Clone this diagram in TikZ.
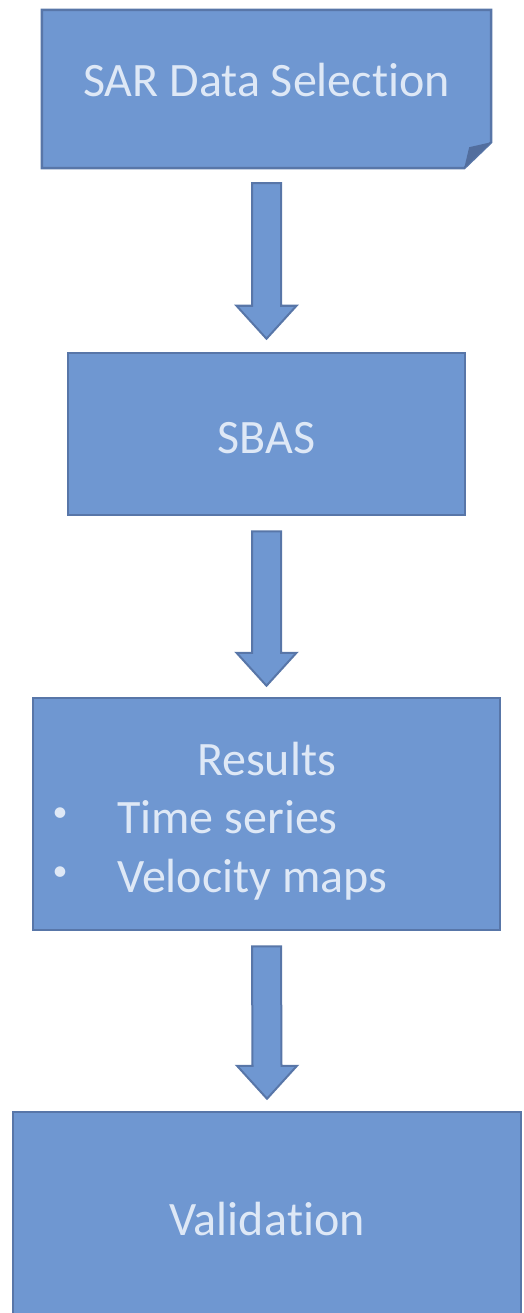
\documentclass[tikz,border=0pt]{standalone}
\usepackage{fontspec}
\setmainfont{Carlito}[Ligatures={NoCommon}]
\usetikzlibrary{calc}
\definecolor{boxfill}{RGB}{111,151,209}
\definecolor{boxline}{RGB}{88,118,168}
\definecolor{foldcol}{RGB}{82,110,158}
\definecolor{txtcol}{RGB}{222,232,246}
\tikzset{
  boxstyle/.style={rectangle, inner sep=0pt, fill=boxfill, draw=boxline, line width=2.5pt},
  txtstyle/.style={inner sep=0pt, text=txtcol, font=\fontsize{48}{58}\selectfont, anchor=base},
  dotstyle/.style={inner sep=0pt, text=txtcol, font=\fontsize{30}{36}\selectfont, anchor=center},
  arrowstyle/.style={fill=boxfill, draw=boxline, line width=2pt, line join=miter}
}
\newcommand{\blockarrow}[2]{%
  \draw[arrowstyle] ($(#1)+(-14.5pt,0pt)$) -- ($(#1)+(14.5pt,0pt)$) -- ($(#2)+(14.5pt,33pt)$) -- ($(#2)+(30pt,33pt)$) -- (#2) -- ($(#2)+(-30pt,33pt)$) -- ($(#2)+(-14.5pt,33pt)$) -- cycle;}
\begin{document}
\begin{tikzpicture}
\useasboundingbox (0pt,0pt) rectangle (524pt,-1313pt);
\clip (0pt,0pt) rectangle (524pt,-1313pt);
% Box 1 (folded corner)
\node[rectangle, inner sep=0pt, minimum width=449pt, minimum height=158pt] (b1) at (266.5pt,-89pt) {};
\draw[fill=boxfill, draw=boxline, line width=2.5pt, line join=miter]
  (b1.north west) -- (b1.north east) -- ($(b1.south east)+(0pt,26pt)$) -- ($(b1.south east)+(-27pt,0pt)$) -- (b1.south west) -- cycle;
\fill[foldcol] ($(b1.south east)+(0pt,26pt)$) -- ($(b1.south east)+(-27pt,0pt)$) -- ($(b1.south east)+(-22pt,21pt)$) -- cycle;
\node[txtstyle] (t1) at (266.5pt,-97pt) {SAR Data Selec\kern0pt tion};
% Box 2
\node[boxstyle, minimum width=397pt, minimum height=162pt] (b2) at (266.5pt,-434pt) {};
\node[txtstyle] (t2) at (266.5pt,-453pt) {SBAS};
% Box 3
\node[boxstyle, minimum width=467pt, minimum height=232pt] (b3) at (266.5pt,-814pt) {};
\node[txtstyle] (t3) at (266.5pt,-775pt) {Results};
\node[txtstyle, anchor=base west] (t4) at (117pt,-833pt) {Time series};
\node[txtstyle, anchor=base west] (t5) at (117pt,-892pt) {Velocity maps};
\node[dotstyle] (d4) at (60pt,-815pt) {•};
\node[dotstyle] (d5) at (60pt,-874pt) {•};
% Box 4
\node[boxstyle, minimum width=508pt, minimum height=220pt] (b4) at (267pt,-1222pt) {};
\node[txtstyle] (t6) at (267pt,-1235pt) {Valida\kern0pt tion};
% Arrows
\coordinate (a1s) at ($(b1.south)+(0pt,-15pt)$);
\coordinate (a1e) at ($(b2.north)+(0pt,13pt)$);
\coordinate (a2s) at ($(b2.south)+(0pt,-15pt)$);
\coordinate (a2e) at ($(b3.north)+(0pt,11pt)$);
\coordinate (a3s) at ($(b3.south)+(0pt,-15pt)$);
\coordinate (a3e) at ($(b4.north)+(0pt,12pt)$);
\blockarrow{a1s}{a1e}
\blockarrow{a2s}{a2e}
\blockarrow{a3s}{a3e}
\end{tikzpicture}
\end{document}
